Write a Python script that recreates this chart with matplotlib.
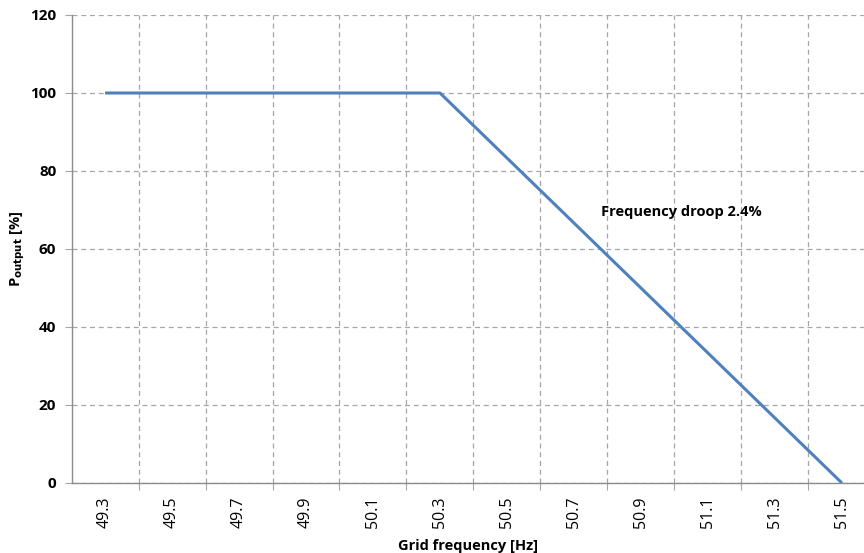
import numpy as np
import matplotlib.pyplot as plt
from matplotlib.ticker import MultipleLocator, FixedLocator

plt.rcParams["font.family"] = ["Open Sans", "DejaVu Sans"]

# data
freq = [49.3, 50.3, 51.5]
p_out = [100, 100, 0]
label_ticks = [49.3, 49.5, 49.7, 49.9, 50.1, 50.3, 50.5, 50.7, 50.9, 51.1, 51.3, 51.5]
grid_ticks = [49.4, 49.6, 49.8, 50.0, 50.2, 50.4, 50.6, 50.8, 51.0, 51.2, 51.4]

C_LINE = "#4F81BD"
C_GRID = "#A6A6A6"

fig = plt.figure(figsize=(8.64, 5.53), dpi=100)
ax = fig.add_axes([0.0828, 0.1266, 0.9172, 0.8463])

ax.plot(freq, p_out, color=C_LINE, linewidth=2.2, solid_capstyle="butt", zorder=3)

ax.set_xlim(49.2, 51.566)
ax.set_ylim(0, 120)

ax.xaxis.set_major_locator(FixedLocator(grid_ticks))
ax.xaxis.set_minor_locator(FixedLocator(label_ticks))
ax.xaxis.set_major_formatter(plt.NullFormatter())
ax.xaxis.set_minor_formatter(plt.FuncFormatter(lambda v, p: f"{v:.1f}"))
ax.tick_params(axis="x", which="major", length=5, color=C_GRID, direction="out")
ax.tick_params(axis="x", which="minor", length=0, pad=10, labelsize=11.5,
               labelrotation=90)
ax.yaxis.set_major_locator(MultipleLocator(20))
ax.tick_params(axis="y", length=5, color=C_GRID, labelsize=11, pad=6)
for t in ax.get_yticklabels():
    t.set_fontweight("bold")

ax.grid(True, which="major", color=C_GRID, linestyle=(0, (4, 3)), linewidth=0.9)
for s in ["top", "right"]:
    ax.spines[s].set_visible(False)
for s in ["left", "bottom"]:
    ax.spines[s].set_color("#8C8C8C")
    ax.spines[s].set_linewidth(1.0)

ax.set_xlabel("Grid frequency [Hz]", fontsize=10.5, fontweight="bold", labelpad=8)
ax.set_ylabel(r"P$_{\mathbf{output}}$ [%]", fontsize=10.5, fontweight="bold", labelpad=2)

ax.text(50.78, 69.5, "Frequency droop 2.4%", fontsize=10.5, fontweight="bold",
        va="center", ha="left")

fig.savefig("out.png", dpi=100)
